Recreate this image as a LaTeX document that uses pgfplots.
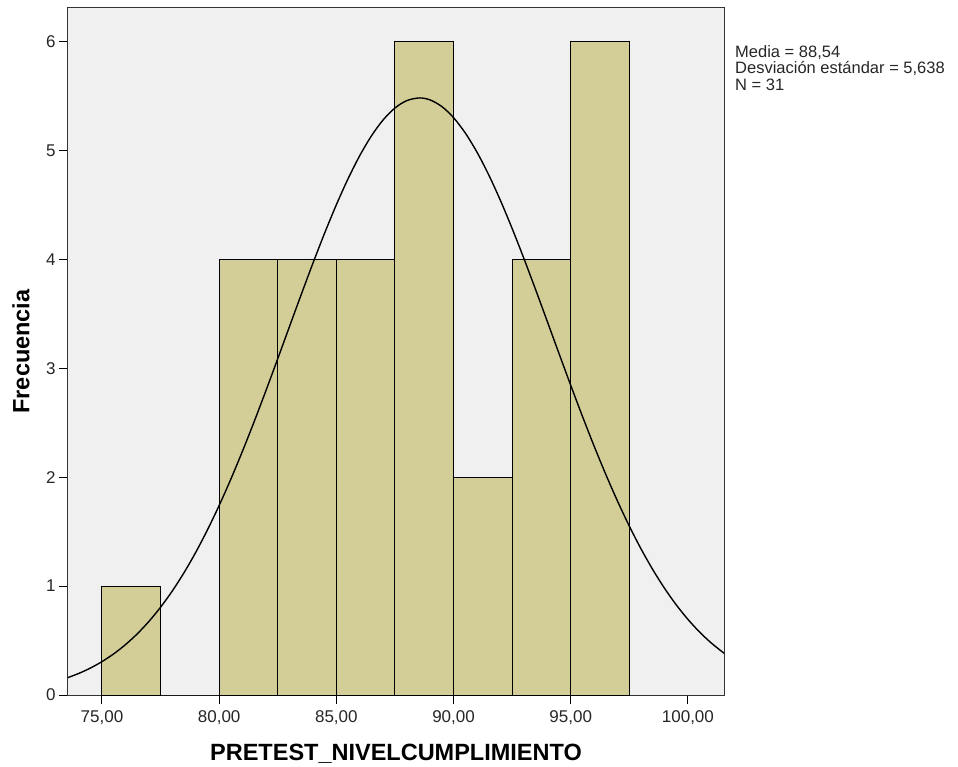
\documentclass[border=0pt]{standalone}
\usepackage{pgfplots}
\pgfplotsset{compat=1.18}
\usepackage{fontspec}
\setmainfont{Liberation Sans}
\definecolor{barfill}{HTML}{D3CE98}
\definecolor{plotbg}{HTML}{F0F0F0}
\begin{document}
\begin{tikzpicture}
\path[use as bounding box] (-68bp,-72bp) rectangle (890bp,695bp);
\begin{axis}[
  at={(0,0)}, anchor=south west,
  scale only axis,
  width=656bp, height=687bp,
  xmin=73.55, xmax=101.54,
  ymin=0, ymax=6.31,
  axis background/.style={fill=plotbg},
  axis line style={black!80, line width=1bp},
  xtick={75,80,85,90,95,100},
  ytick={0,1,2,3,4,5,6},
  xtick pos=bottom, ytick pos=left,
  tick align=outside,
  major tick length=9bp,
  tick style={black, line width=1bp},
  xticklabel style={yshift=-3bp, /pgf/number format/fixed, /pgf/number format/fixed zerofill, /pgf/number format/precision=2, /pgf/number format/use comma, /pgf/number format/1000 sep={}},
  /pgf/number format/assume math mode=true,
  tick label style={font=\fontsize{17bp}{18bp}\selectfont, text=black!85},
  xlabel={PRETEST\_NIVELCUMPLIMIENTO},
  ylabel={Frecuencia},
  label style={font=\fontsize{23.5bp}{24bp}\selectfont\bfseries},
  xlabel style={at={(rel axis cs:0.5,0)}, anchor=base, yshift=-65bp},
  ylabel style={at={(rel axis cs:-0.0716,0.5)}, anchor=center},
  clip=true,
]
\addplot[ybar interval, fill=barfill, draw=black, line width=1bp] coordinates {
 (75,1) (77.5,0) (80,4) (82.5,4) (85,4) (87.5,6) (90,2) (92.5,4) (95,6) (97.5,6)
};
\addplot[smooth, black, line width=1.4bp, mark=none] coordinates {
 (73.5,0.1563) (74,0.1972) (74.5,0.2469) (75,0.3068) (75.5,0.3780) (76,0.4622)
 (76.5,0.5608) (77,0.6751) (77.5,0.8063) (78,0.9554) (78.5,1.1232) (79,1.3102)
 (79.5,1.5164) (80,1.7412) (80.5,1.9836) (81,2.2423) (81.5,2.5147) (82,2.7983)
 (82.5,3.0893) (83,3.3839) (83.5,3.6774) (84,3.9655) (84.5,4.2424) (85,4.5028)
 (85.5,4.7418) (86,4.9546) (86.5,5.1363) (87,5.2830) (87.5,5.3913) (88,5.4587)
 (88.54,5.4838) (89,5.4656) (89.5,5.4049) (90,5.3030) (90.5,5.1622) (91,4.9859)
 (91.5,4.7778) (92,4.5425) (92.5,4.2850) (93,4.0105) (93.5,3.7241) (94,3.4310)
 (94.5,3.1363) (95,2.8445) (95.5,2.5596) (96,2.2851) (96.5,2.0241) (97,1.7790)
 (97.5,1.5511) (98,1.3419) (98.5,1.1519) (99,0.9811) (99.5,0.8288) (100,0.6947)
 (100.5,0.5779) (101,0.4770) (101.5,0.3906) (101.6,0.3750)
};
\end{axis}
\node[anchor=north west, align=left, inner sep=0pt,
      font=\fontsize{16.5bp}{16.5bp}\selectfont, text=black!85]
  at (667bp,650bp) {Media = 88,54\\Desviación estándar = 5,638\\N = 31};
\end{tikzpicture}
\end{document}
